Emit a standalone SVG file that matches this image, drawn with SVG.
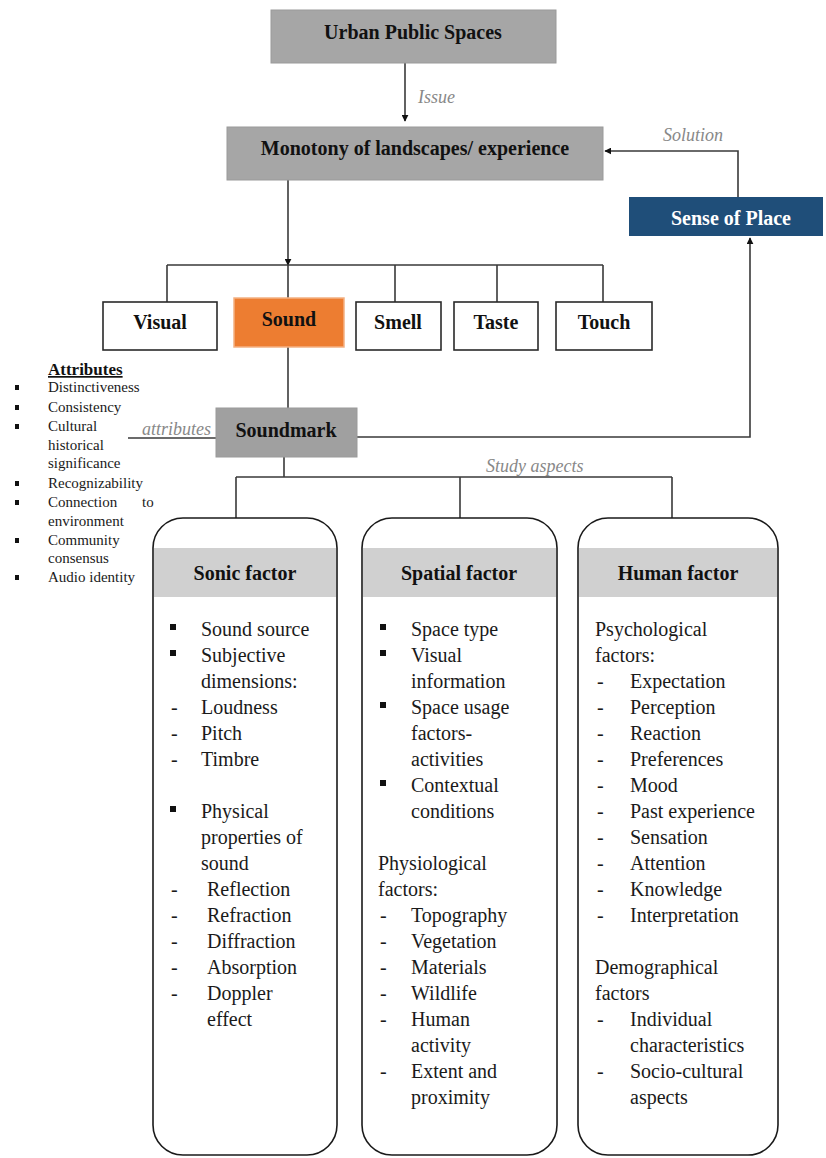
<svg xmlns="http://www.w3.org/2000/svg" width="826" height="1158" viewBox="0 0 826 1158">
<defs>
<marker id="arr" viewBox="0 0 10 10" refX="9" refY="5" markerWidth="7" markerHeight="7" markerUnits="userSpaceOnUse" orient="auto">
<path d="M0,0 L10,5 L0,10 z" fill="#111"/>
</marker>
<style>
.conn{fill:none;stroke:#3a3a3a;stroke-width:1.6}
.gray{fill:#a6a6a6;stroke:#9a9a9a;stroke-width:1}
.white{fill:#fff;stroke:#2a2a2a;stroke-width:1.6}
.fbox{fill:#fff;stroke:#1a1a1a;stroke-width:1.6}
.band{fill:#d0d0d0}
.t{font-family:"Liberation Serif","Times New Roman",serif;font-weight:bold;font-size:20px;fill:#111;text-anchor:middle}
.lab{font-family:"Liberation Serif","Times New Roman",serif;font-style:italic;font-size:18px;fill:#888}
.b{font-family:"Liberation Serif","Times New Roman",serif;font-size:20px;fill:#1a1a1a}
.a{font-family:"Liberation Serif","Times New Roman",serif;font-size:15px;fill:#1a1a1a}
.sq{fill:#111}
</style>
</defs>

<g id="connectors">
<path class="conn" d="M405,63 V121" marker-end="url(#arr)"/>
<path class="conn" d="M288,180 V265" marker-end="url(#arr)"/>
<path class="conn" d="M167,265 H603 M167,265 V302 M288,265 V298 M395,265 V302 M497,265 V302 M603,265 V302"/>
<path class="conn" d="M288,347 V408"/>
<path class="conn" d="M357,437 H750 V238" marker-end="url(#arr)"/>
<path class="conn" d="M738,197 V151 H605" marker-end="url(#arr)"/>
<path class="conn" d="M128,438 H216"/>
<path class="conn" d="M284,457 V477 M236,477 H672 M236,477 V518 M460,477 V518 M672,477 V518"/>
<text class="lab" x="418" y="103">Issue</text>
<text class="lab" x="663" y="141">Solution</text>
<text class="lab" x="142" y="435">attributes</text>
<text class="lab" x="486" y="472">Study aspects</text>
</g>

<g id="urban">
<rect class="gray" x="271" y="10" width="285" height="53"/>
<text class="t" x="413" y="39">Urban Public Spaces</text>
</g>

<g id="monotony">
<rect class="gray" x="227" y="127" width="376" height="53"/>
<text class="t" x="415" y="155">Monotony of landscapes/ experience</text>
</g>

<g id="sense-of-place">
<rect x="629" y="197" width="194" height="39" fill="#1f4e79"/>
<text class="t" x="731" y="225" style="fill:#fff">Sense of Place</text>
</g>

<g id="visual">
<rect class="white" x="103" y="302" width="114" height="48"/>
<text class="t" x="160" y="329">Visual</text>
</g>
<g id="sound">
<rect x="234" y="298" width="110" height="49" fill="#ed7d31" stroke="#f4b183" stroke-width="1.5"/>
<text class="t" x="289" y="326">Sound</text>
</g>
<g id="smell">
<rect class="white" x="356" y="302" width="85" height="48"/>
<text class="t" x="398" y="329">Smell</text>
</g>
<g id="taste">
<rect class="white" x="454" y="302" width="84" height="48"/>
<text class="t" x="496" y="329">Taste</text>
</g>
<g id="touch">
<rect class="white" x="556" y="302" width="96" height="48"/>
<text class="t" x="604" y="329">Touch</text>
</g>

<g id="soundmark">
<rect class="gray" x="216" y="408" width="141" height="49" style="fill:#a0a0a0"/>
<text class="t" x="286" y="437">Soundmark</text>
</g>

<g id="attributes">
<text x="48" y="375" style="font-family:'Liberation Serif','Times New Roman',serif;font-weight:bold;font-size:17px;fill:#111;text-decoration:underline">Attributes</text>
<rect class="sq" x="15" y="385" width="4" height="5"/>
<text class="a" x="48" y="392">Distinctiveness</text>
<rect class="sq" x="15" y="405" width="4" height="5"/>
<text class="a" x="48" y="412">Consistency</text>
<rect class="sq" x="15" y="424" width="4" height="5"/>
<text class="a" x="48" y="431">Cultural</text>
<text class="a" x="48" y="450">historical</text>
<text class="a" x="48" y="468">significance</text>
<rect class="sq" x="15" y="481" width="4" height="5"/>
<text class="a" x="48" y="488">Recognizability</text>
<rect class="sq" x="15" y="500" width="4" height="5"/>
<text class="a" x="48" y="507">Connection</text>
<text class="a" x="142" y="507">to</text>
<text class="a" x="48" y="526">environment</text>
<rect class="sq" x="15" y="538" width="4" height="5"/>
<text class="a" x="48" y="545">Community</text>
<text class="a" x="48" y="563">consensus</text>
<rect class="sq" x="15" y="575" width="4" height="5"/>
<text class="a" x="48" y="582">Audio identity</text>
</g>

<g id="sonic-factor">
<rect class="fbox" x="153" y="518" width="184" height="637" rx="30" ry="30"/>
<rect class="band" x="154" y="548" width="182" height="49"/>
<text class="t" x="245" y="580">Sonic factor</text>
<rect class="sq" x="170" y="624" width="6" height="6"/>
<text class="b" x="201" y="636">Sound source</text>
<rect class="sq" x="170" y="650" width="6" height="6"/>
<text class="b" x="201" y="662">Subjective</text>
<text class="b" x="201" y="688">dimensions:</text>
<text class="b" x="171" y="714">-</text><text class="b" x="201" y="714">Loudness</text>
<text class="b" x="171" y="740">-</text><text class="b" x="201" y="740">Pitch</text>
<text class="b" x="171" y="766">-</text><text class="b" x="201" y="766">Timbre</text>
<rect class="sq" x="170" y="806" width="6" height="6"/>
<text class="b" x="201" y="818">Physical</text>
<text class="b" x="201" y="844">properties of</text>
<text class="b" x="201" y="870">sound</text>
<text class="b" x="171" y="896">-</text><text class="b" x="207" y="896">Reflection</text>
<text class="b" x="171" y="922">-</text><text class="b" x="207" y="922">Refraction</text>
<text class="b" x="171" y="948">-</text><text class="b" x="207" y="948">Diffraction</text>
<text class="b" x="171" y="974">-</text><text class="b" x="207" y="974">Absorption</text>
<text class="b" x="171" y="1000">-</text><text class="b" x="207" y="1000">Doppler</text>
<text class="b" x="207" y="1026">effect</text>
</g>

<g id="spatial-factor">
<rect class="fbox" x="362" y="518" width="195" height="637" rx="30" ry="30"/>
<rect class="band" x="363" y="548" width="193" height="49"/>
<text class="t" x="459" y="580">Spatial factor</text>
<rect class="sq" x="380" y="624" width="6" height="6"/>
<text class="b" x="411" y="636">Space type</text>
<rect class="sq" x="380" y="650" width="6" height="6"/>
<text class="b" x="411" y="662">Visual</text>
<text class="b" x="411" y="688">information</text>
<rect class="sq" x="380" y="702" width="6" height="6"/>
<text class="b" x="411" y="714">Space usage</text>
<text class="b" x="411" y="740">factors-</text>
<text class="b" x="411" y="766">activities</text>
<rect class="sq" x="380" y="780" width="6" height="6"/>
<text class="b" x="411" y="792">Contextual</text>
<text class="b" x="411" y="818">conditions</text>
<text class="b" x="378" y="870">Physiological</text>
<text class="b" x="378" y="896">factors:</text>
<text class="b" x="380" y="922">-</text><text class="b" x="411" y="922">Topography</text>
<text class="b" x="380" y="948">-</text><text class="b" x="411" y="948">Vegetation</text>
<text class="b" x="380" y="974">-</text><text class="b" x="411" y="974">Materials</text>
<text class="b" x="380" y="1000">-</text><text class="b" x="411" y="1000">Wildlife</text>
<text class="b" x="380" y="1026">-</text><text class="b" x="411" y="1026">Human</text>
<text class="b" x="411" y="1052">activity</text>
<text class="b" x="380" y="1078">-</text><text class="b" x="411" y="1078">Extent and</text>
<text class="b" x="411" y="1104">proximity</text>
</g>

<g id="human-factor">
<rect class="fbox" x="578" y="518" width="200" height="637" rx="30" ry="30"/>
<rect class="band" x="579" y="548" width="198" height="49"/>
<text class="t" x="678" y="580">Human factor</text>
<text class="b" x="595" y="636">Psychological</text>
<text class="b" x="595" y="662">factors:</text>
<text class="b" x="597" y="688">-</text><text class="b" x="630" y="688">Expectation</text>
<text class="b" x="597" y="714">-</text><text class="b" x="630" y="714">Perception</text>
<text class="b" x="597" y="740">-</text><text class="b" x="630" y="740">Reaction</text>
<text class="b" x="597" y="766">-</text><text class="b" x="630" y="766">Preferences</text>
<text class="b" x="597" y="792">-</text><text class="b" x="630" y="792">Mood</text>
<text class="b" x="597" y="818">-</text><text class="b" x="630" y="818">Past experience</text>
<text class="b" x="597" y="844">-</text><text class="b" x="630" y="844">Sensation</text>
<text class="b" x="597" y="870">-</text><text class="b" x="630" y="870">Attention</text>
<text class="b" x="597" y="896">-</text><text class="b" x="630" y="896">Knowledge</text>
<text class="b" x="597" y="922">-</text><text class="b" x="630" y="922">Interpretation</text>
<text class="b" x="595" y="974">Demographical</text>
<text class="b" x="595" y="1000">factors</text>
<text class="b" x="597" y="1026">-</text><text class="b" x="630" y="1026">Individual</text>
<text class="b" x="630" y="1052">characteristics</text>
<text class="b" x="597" y="1078">-</text><text class="b" x="630" y="1078">Socio-cultural</text>
<text class="b" x="630" y="1104">aspects</text>
</g>
</svg>
